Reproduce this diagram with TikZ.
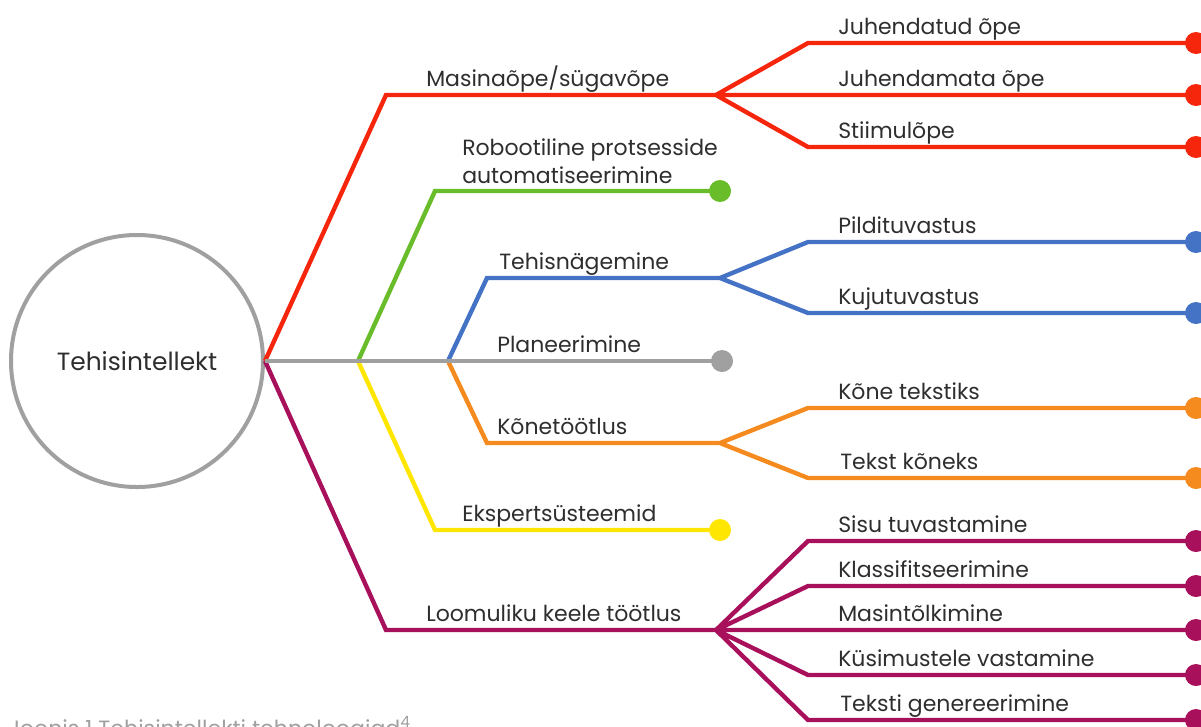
\documentclass[tikz,border=0pt]{standalone}
\usepackage{fontspec}
\setmainfont{Poppins}
\usetikzlibrary{positioning}
\definecolor{aiRed}{HTML}{F5260C}
\definecolor{aiGreen}{HTML}{69BC2A}
\definecolor{aiBlue}{HTML}{4472C4}
\definecolor{aiGray}{HTML}{A0A0A0}
\definecolor{aiYellow}{HTML}{FFE600}
\definecolor{aiOrange}{HTML}{F58A1F}
\definecolor{aiPurple}{HTML}{A8105C}
\definecolor{txtGray}{HTML}{2E2E2E}
\tikzset{
  branch/.style={draw=#1, line width=3.3pt},
  leaf/.style={circle, fill=#1, inner sep=0pt, minimum size=16.5pt},
  lbl/.style={anchor=base west, inner sep=0pt, text=txtGray, font=\fontsize{16.5}{21}\selectfont},
  hub/.style={circle, draw=aiGray, line width=3pt, minimum size=189pt, text=txtGray, font=\fontsize{18.7}{24}\selectfont},
}

\begin{document}
\begin{tikzpicture}[x=0.75pt,y=-0.75pt]
\useasboundingbox (0,0) rectangle (1201,726);

\node[hub] at (137,361) (ti) {Tehisintellekt};
\coordinate (b1) at (358,361);
\coordinate (b2) at (448,361);

% corners of the main branches
\coordinate (ml) at (386,95);   \coordinate (mlf) at (716,95);
\coordinate (rpa) at (435,191);
\coordinate (cv) at (487,278);  \coordinate (cvf) at (720,278);
\coordinate (sp) at (487,443);  \coordinate (spf) at (720,443);
\coordinate (es) at (435,530);
\coordinate (nlp) at (386,630); \coordinate (nlpf) at (716,630);

% corners of the sub branches
\coordinate (ml1) at (808,43);  \coordinate (ml3) at (808,147);
\coordinate (cv1) at (808,242); \coordinate (cv2) at (808,313);
\coordinate (sp1) at (808,408); \coordinate (sp2) at (808,478);
\coordinate (nlp1) at (808,541); \coordinate (nlp2) at (808,586);
\coordinate (nlp4) at (808,675); \coordinate (nlp5) at (808,720);

% dots
\node[leaf=aiGreen] at (720,191) (rpa-d) {};
\node[leaf=aiGray] at (722,361) (plan-d) {};
\node[leaf=aiYellow] at (720,530) (es-d) {};
\node[leaf=aiRed] at (1196,43) (ml-d1) {};
\node[leaf=aiRed] at (1196,95) (ml-d2) {};
\node[leaf=aiRed] at (1196,147) (ml-d3) {};
\node[leaf=aiBlue] at (1196,242) (cv-d1) {};
\node[leaf=aiBlue] at (1196,313) (cv-d2) {};
\node[leaf=aiOrange] at (1196,408) (sp-d1) {};
\node[leaf=aiOrange] at (1196,478) (sp-d2) {};
\node[leaf=aiPurple] at (1196,541) (nlp-d1) {};
\node[leaf=aiPurple] at (1196,586) (nlp-d2) {};
\node[leaf=aiPurple] at (1196,630) (nlp-d3) {};
\node[leaf=aiPurple] at (1196,675) (nlp-d4) {};
\node[leaf=aiPurple] at (1196,720) (nlp-d5) {};

% branches
\draw[branch=aiRed] (ti.east) -- (ml) -- (mlf) -- (ml1) -- (ml-d1.center)
  (mlf) -- (ml-d2.center)
  (mlf) -- (ml3) -- (ml-d3.center);
\draw[branch=aiGreen] (b1) -- (rpa) -- (rpa-d.center);
\draw[branch=aiYellow] (b1) -- (es) -- (es-d.center);
\draw[branch=aiBlue] (b2) -- (cv) -- (cvf) -- (cv1) -- (cv-d1.center)
  (cvf) -- (cv2) -- (cv-d2.center);
\draw[branch=aiOrange] (b2) -- (sp) -- (spf) -- (sp1) -- (sp-d1.center)
  (spf) -- (sp2) -- (sp-d2.center);
\draw[branch=aiPurple] (ti.east) -- (nlp) -- (nlpf) -- (nlp1) -- (nlp-d1.center)
  (nlpf) -- (nlp2) -- (nlp-d2.center)
  (nlpf) -- (nlp-d3.center)
  (nlpf) -- (nlp4) -- (nlp-d4.center)
  (nlpf) -- (nlp5) -- (nlp-d5.center);
\draw[branch=aiGray] (ti.east) -- (plan-d.center);

% labels
\node[lbl] at (426,86) (ml-t) {Masinaõpe/sügavõpe};
\node[lbl] at (838,34) (ml-t1) {Juhendatud õpe};
\node[lbl] at (838,86) (ml-t2) {Juhendamata õpe};
\node[lbl] at (838,138) (ml-t3) {Stiimulõpe};
\node[lbl, align=left] at (462,183) (rpa-t) {Robootiline protsesside\\automatiseerimine};
\node[lbl] at (499,269) (cv-t) {Tehisnägemine};
\node[lbl] at (838,233) (cv-t1) {Pildituvastus};
\node[lbl] at (838,304) (cv-t2) {Kujutuvastus};
\node[lbl] at (497,352) (plan-t) {Planeerimine};
\node[lbl] at (497,434) (sp-t) {Kõnetöötlus};
\node[lbl] at (838,399) (sp-t1) {Kõne tekstiks};
\node[lbl] at (840,469) (sp-t2) {Tekst kõneks};
\node[lbl] at (462,521) (es-t) {Ekspertsüsteemid};
\node[lbl] at (426,621) (nlp-t) {Loomuliku keele töötlus};
\node[lbl] at (838,532) (nlp-t1) {Sisu tuvastamine};
\node[lbl] at (838,577) (nlp-t2) {Klassifitseerimine};
\node[lbl] at (838,621) (nlp-t3) {Masintõlkimine};
\node[lbl] at (838,666) (nlp-t4) {Küsimustele vastamine};
\node[lbl] at (840,711) (nlp-t5) {Teksti genereerimine};

\node[lbl, text=aiGray, font=\fontsize{16.6}{23}\selectfont] at (8,736) (cap) {Joonis 1 Tehisintellekti tehnoloogiad\textsuperscript{4}};
\end{tikzpicture}
\end{document}
